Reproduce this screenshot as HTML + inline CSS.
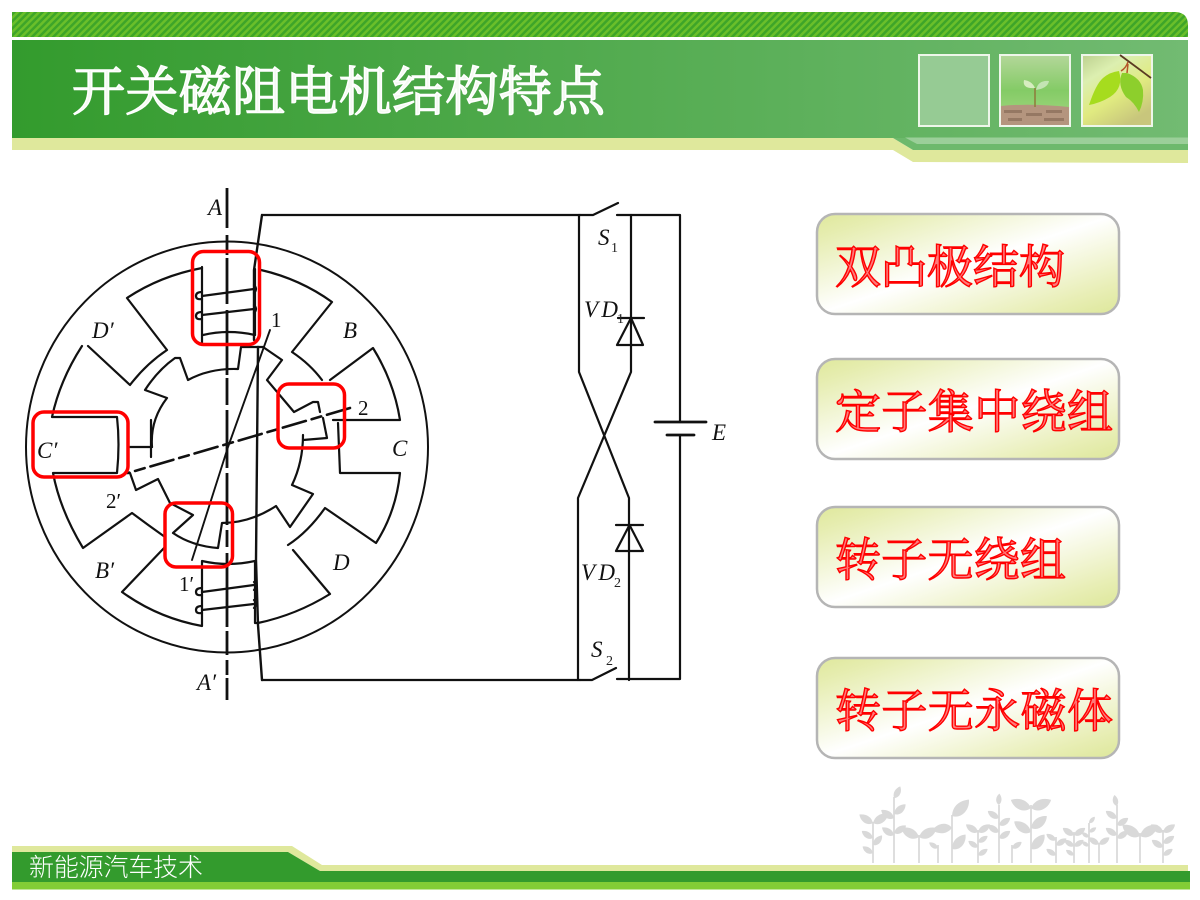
<!DOCTYPE html>
<html lang="zh"><head><meta charset="utf-8"><title>开关磁阻电机结构特点</title>
<style>
html,body{margin:0;padding:0;background:#fff;width:1200px;height:900px;overflow:hidden}
svg{display:block}
.cj{font-family:"Liberation Serif","Noto Serif CJK SC",serif}
.t{font-family:"Liberation Serif",serif;font-style:italic;font-size:23px;fill:#111}
.s{font-family:"Liberation Serif",serif;font-size:14px;fill:#222}
</style></head><body>
<svg width="1200" height="900" viewBox="0 0 1200 900" xmlns="http://www.w3.org/2000/svg">
<defs>
<pattern id="h" width="5" height="5" patternUnits="userSpaceOnUse" patternTransform="rotate(45)"><rect width="5" height="5" fill="#3ea529"/><rect width="2.500" height="5" fill="#6abf2a"/></pattern>
<linearGradient id="hd" x1="0" x2="1" y1="0" y2="0"><stop offset="0" stop-color="#339b2d"/><stop offset="1" stop-color="#72bb72"/></linearGradient>
<linearGradient id="b" x1="0" y1="0" x2="1" y2="1"><stop offset="0" stop-color="#dfe89c"/><stop offset=".12" stop-color="#e6edb0"/><stop offset=".5" stop-color="#fff"/><stop offset=".85" stop-color="#e8eeb5"/><stop offset="1" stop-color="#dde79a"/></linearGradient>
<linearGradient id="sg" x1="0" y1="0" x2="0" y2="1"><stop offset="0" stop-color="#b4d79a"/><stop offset=".5" stop-color="#84cb66"/><stop offset="1" stop-color="#a8d984"/></linearGradient>
<linearGradient id="lg" x1="0" y1="0" x2=".6" y2="1"><stop offset="0" stop-color="#bcd08f"/><stop offset=".3" stop-color="#dcefb0"/><stop offset=".65" stop-color="#e0ea80"/><stop offset="1" stop-color="#c8c67c"/></linearGradient>
<path id="lf" d="M0 0C2-8 9-11 16-10C15-2 7 4 0 0Z"/>
</defs>

<!-- header -->
<path d="M12 12H1176Q1188 13 1188 25V37H12Z" fill="url(#h)"/>
<rect x="12" y="40" width="1176" height="98" fill="url(#hd)"/>
<path d="M12 138H893L913 150H1188V163L913 162L893 150H12Z" fill="#dfe89c"/>
<path d="M893 138H1188V150H913Z" fill="#6db96c"/>
<path d="M905 137.500H1188V144H917Z" fill="#9bcf99"/>
<rect x="919" y="55" width="70" height="71" fill="#96cb94" stroke="#eef6ea" stroke-width="2"/>
<rect x="1000" y="55" width="70" height="71" fill="url(#sg)" stroke="#eef6ea" stroke-width="2"/>
<path d="M1001 106Q1030 103 1069 107V125H1001Z" fill="#b4957e"/>
<path d="M1004 110h18v3h-18ZM1026 113h16v3h-16ZM1046 110h16v3h-16ZM1008 118h14v3h-14ZM1044 118h20v3h-20Z" fill="#806552" opacity=".6"/>
<path d="M1035 107V88" stroke="#8e7a3a" stroke-width="1.500"/>
<path d="M1035 88Q1022 89 1024 80Q1032 81 1035 88Z" fill="#d7edc0"/>
<path d="M1036 90Q1048 88 1049 81Q1038 80 1036 90Z" fill="#c3e4b4"/>
<rect x="1082" y="55" width="70" height="71" fill="url(#lg)" stroke="#eef6ea" stroke-width="2"/>
<path d="M1120 55L1151 78" stroke="#5a3a22" stroke-width="1.800"/>
<path d="M1128 62Q1126 68 1121 71M1128 64L1127 73" stroke="#b5552a" stroke-width="1.500" fill="none"/>
<path d="M1119 71Q1124 88 1110 97Q1100 103 1089 105Q1096 84 1103 78Q1110 72 1119 71Z" fill="#a6dc1e"/>
<path d="M1127 73Q1141 78 1143 90Q1144 102 1139 112Q1134 102 1126 97Q1117 85 1122 73Z" fill="#8dcf2c"/>

<text x="72" y="110" font-size="53" class="cj" textLength="533" fill="#f4faf2" stroke="#fff" stroke-width="1.500">开关磁阻电机结构特点</text>

<!-- motor -->
<g fill="none" stroke="#111" stroke-linejoin="round" stroke-linecap="round">
<ellipse cx="227" cy="447" rx="201" ry="205.500" stroke-width="2"/>
<g stroke-width="2.200">
<path d="M202 267V345M255 269V335"/>
<path d="M261 270Q300 279 332 302L292 352Q310 364 322 380M330 380L373 348Q394 382 400 420H333M338 423L340 473H400Q396 512 376 543L325 508Q308 532 288 545M293 550L330 594Q296 615 258 623H255V561Q228 567 202 561V626Q158 618 122 592L165 547M165 537Q148 525 132 513L83 548Q60 510 53 473H117Q120 444 117 417H52Q60 380 82 346M88 346L130 385Q146 364 167 350L127 298Q160 276 202 268"/>
<path d="M128 447H152M151 420V457"/>
<path d="M152 447Q150 420 167 398L145 390Q158 370 175 358H180L188 380Q210 368 238 369L241 347H263L282 360L267 380L294 412L313 402H318L320 412M323 418L327 438L303 440M303 435Q303 462 292 485L313 494L290 527L276 506Q250 523 222 523L218 548Q192 546 173 533L193 515L170 503L158 479L136 490L130 473"/>
<path d="M202 296L254 289M202 315L254 309M203 335Q228 329 255 335"/>
<path d="M202 592L254 585M202 610L254 604"/>
<path d="M202 292q-6 0-6 4t6 3M202 312q-6 0-6 4t6 3M254 285q4 4 0 8M254 305q4 4 0 8M202 588q-6 0-6 4t6 3M202 606q-6 0-6 4t6 3M254 582q4 4 0 8M254 600q4 4 0 8"/>
</g>
<path d="M227 188V228M227 235V255M227 258V304M227 310V375M227 378V405M227 410V468M227 473V525M227 530V547M227 553V627M227 631V655M227 660V675M227 678V700" stroke-width="2.800" stroke-linecap="butt"/>
<path d="M262 215L254 270V340M258 347L256 560L258 625L262 680" stroke-width="2.400"/>
<path d="M262 215H580M262 680H580" stroke-width="2.200"/>
<path d="M270 330L228 447L192 560" stroke-width="1.900"/>
<path d="M350 408L128 473" stroke-width="2.600" stroke-dasharray="24 6 10 6"/>

<!-- circuit -->
<g stroke-width="2.200">
<path d="M579 215V372L629 498V680M631 215V372L578 498V680"/>
<path d="M580 215H593L618 203M617 215H680V422M680 435V679H617M580 680H592L616 668"/>
<path d="M655 422H706M667 435H694" stroke-width="2.800"/>
<path d="M618 318H644M631 318L617 345H643ZM616 525H643M629.500 525L616 551H643Z"/>
</g>
</g>

<g fill="none" stroke="#f00" stroke-width="3.500">
<rect x="192.500" y="251.500" width="67" height="93" rx="11"/>
<rect x="278" y="384" width="66.500" height="64" rx="11"/>
<rect x="33" y="412" width="95" height="65" rx="11"/>
<rect x="165" y="503" width="67.500" height="64" rx="11"/>
</g>

<text x="208" y="215" class="t">A</text>
<text x="197" y="690" class="t">A′</text>
<text x="92" y="338" class="t">D′</text>
<text x="343" y="338" class="t">B</text>
<text x="392" y="456" class="t">C</text>
<text x="37" y="458" class="t">C′</text>
<text x="333" y="570" class="t">D</text>
<text x="95" y="578" class="t">B′</text>
<text x="271" y="327" class="t" style="font-style:normal;font-size:21px">1</text>
<text x="358" y="415" class="t" style="font-style:normal;font-size:21px">2</text>
<text x="106" y="508" class="t" style="font-style:normal;font-size:21px">2′</text>
<text x="179" y="591" class="t" style="font-style:normal;font-size:21px">1′</text>
<text x="598" y="245" class="t">S</text><text x="611" y="252" class="s">1</text>
<text x="584" y="317" class="t" textLength="34">VD</text><text x="617" y="323" class="s">1</text>
<text x="581" y="580" class="t" textLength="34">VD</text><text x="614" y="587" class="s">2</text>
<text x="591" y="657" class="t">S</text><text x="606" y="665" class="s">2</text>
<text x="712" y="440" class="t">E</text>

<!-- buttons -->
<g fill="url(#b)" stroke="#b5b5b5" stroke-width="2.500">
<rect x="817" y="214" width="302" height="100" rx="18"/>
<rect x="817" y="359" width="302" height="100" rx="18"/>
<rect x="817" y="507" width="302" height="100" rx="18"/>
<rect x="817" y="658" width="302" height="100" rx="18"/>
</g>
<g class="cj" font-size="46" fill="#ff7a7a" stroke="#f00" stroke-width="1.400">
<text x="835" y="283" textLength="230">双凸极结构</text>
<text x="835" y="428" textLength="278">定子集中绕组</text>
<text x="835" y="576" textLength="231">转子无绕组</text>
<text x="835" y="727" textLength="278">转子无永磁体</text>
</g>

<!-- plants -->
<g stroke="#d9d9d9" stroke-width="1.700" fill="none">
<path d="M873 863V822M894 863V797M919 863V835M938 863V845M952 863V815M978 863V830M999 863V805M1012 863V845M1031 863V805M1056 863V837M1074 863V832M1089 863V823M1099 863V843M1117 863V805M1140 863V833M1163 863V830"/>
</g>
<g fill="#d9d9d9">
<use href="#lf" transform="translate(873 823) scale(.95)"/><use href="#lf" transform="translate(873 823) scale(-.85 .85)"/>
<use href="#lf" transform="translate(873 845) rotate(-15) scale(.7)"/><use href="#lf" transform="translate(873 838) scale(-.7 .7)"/>
<use href="#lf" transform="translate(873 853) scale(-.65 .65)"/>
<use href="#lf" transform="translate(894 798) rotate(-30) scale(.7)"/>
<use href="#lf" transform="translate(894 814) rotate(-8) scale(.8)"/><use href="#lf" transform="translate(894 818) scale(-.8 .8)"/>
<use href="#lf" transform="translate(894 833) scale(.75)"/><use href="#lf" transform="translate(894 835) scale(-.75 .75)"/>
<use href="#lf" transform="translate(919 837) rotate(5) scale(1.050)"/><use href="#lf" transform="translate(919 837) rotate(-5) scale(-1.050 1.050)"/>
<use href="#lf" transform="translate(938 848) scale(-.55 .55)"/>
<use href="#lf" transform="translate(952 816) rotate(-12) scale(1.250)"/><use href="#lf" transform="translate(952 828) rotate(25) scale(-1.050 -1.050)"/>
<use href="#lf" transform="translate(952 849) rotate(-15) scale(1.050)"/>
<use href="#lf" transform="translate(978 832) scale(.75)"/><use href="#lf" transform="translate(978 832) scale(-.75 .75)"/>
<use href="#lf" transform="translate(978 842) scale(.6)"/><use href="#lf" transform="translate(978 847) scale(-.6 .6)"/><use href="#lf" transform="translate(978 855) scale(.6)"/>
<use href="#lf" transform="translate(999 805) rotate(60) scale(-.6 .6)"/><use href="#lf" transform="translate(999 818) scale(-.7 .7)"/>
<use href="#lf" transform="translate(999 825) scale(.7)"/><use href="#lf" transform="translate(999 832) scale(-.7 .7)"/><use href="#lf" transform="translate(999 838) scale(.7)"/>
<use href="#lf" transform="translate(1012 848) scale(.6)"/>
<use href="#lf" transform="translate(1031 808) rotate(10) scale(1.150)"/><use href="#lf" transform="translate(1031 808) rotate(-10) scale(-1.150 1.150)"/>
<use href="#lf" transform="translate(1031 828) rotate(-5) scale(1.050)"/><use href="#lf" transform="translate(1031 832) scale(-1.050 1.050)"/><use href="#lf" transform="translate(1031 849) rotate(-15) scale(1.050)"/>
<use href="#lf" transform="translate(1056 840) scale(-.6 .6)"/><use href="#lf" transform="translate(1056 845) scale(.65)"/><use href="#lf" transform="translate(1056 855) scale(-.6 .6)"/>
<use href="#lf" transform="translate(1074 835) scale(.7)"/><use href="#lf" transform="translate(1074 835) scale(-.7 .7)"/>
<use href="#lf" transform="translate(1074 846) scale(.6)"/><use href="#lf" transform="translate(1074 846) scale(-.6 .6)"/><use href="#lf" transform="translate(1074 855) scale(-.5 .5)"/>
<use href="#lf" transform="translate(1089 823) rotate(-15) scale(.45)"/><use href="#lf" transform="translate(1089 832) scale(.45)"/><use href="#lf" transform="translate(1089 837) scale(-.45 .45)"/><use href="#lf" transform="translate(1089 846) scale(-.45 .45)"/>
<use href="#lf" transform="translate(1099 844) scale(.65)"/><use href="#lf" transform="translate(1099 844) scale(-.65 .65)"/>
<use href="#lf" transform="translate(1117 806) rotate(45) scale(-.6 .6)"/><use href="#lf" transform="translate(1117 818) scale(-.7 .7)"/>
<use href="#lf" transform="translate(1117 825) scale(.7)"/><use href="#lf" transform="translate(1117 835) scale(-.7 .7)"/><use href="#lf" transform="translate(1117 838) scale(.7)"/>
<use href="#lf" transform="translate(1140 836) scale(1.100)"/><use href="#lf" transform="translate(1140 836) scale(-1.100 1.100)"/>
<use href="#lf" transform="translate(1163 832) scale(.75)"/><use href="#lf" transform="translate(1163 832) scale(-.75 .75)"/>
<use href="#lf" transform="translate(1163 843) scale(.7)"/><use href="#lf" transform="translate(1163 847) scale(-.7 .7)"/><use href="#lf" transform="translate(1163 855) scale(.6)"/>
</g>

<!-- footer -->
<path d="M12 846H292L322 865H1188V871H320L288 852H12Z" fill="#dfe89c"/>
<path d="M12 852H288L320 871H1190V882H12Z" fill="#339b2d"/>
<rect x="12" y="882" width="1178" height="7.500" fill="#82cd36"/>
<text x="29" y="876" font-size="25" class="cj" textLength="174" fill="#fff" style="font-family:'Noto Sans CJK SC',sans-serif;font-weight:300">新能源汽车技术</text>
</svg>
</body></html>
